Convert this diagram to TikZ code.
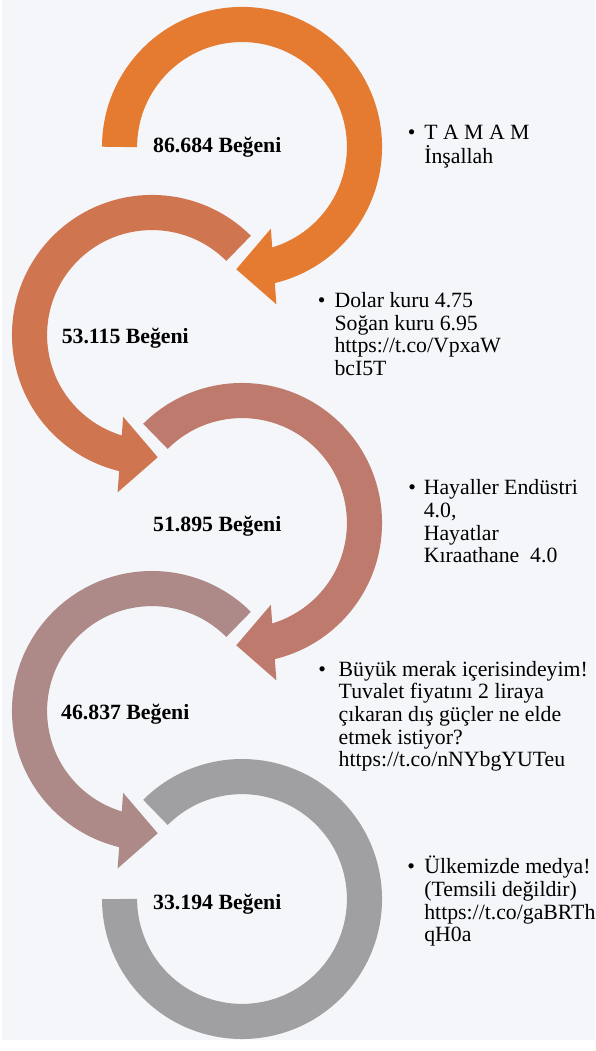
\documentclass[tikz,border=0pt]{standalone}
\usepackage{fontspec}
\setmainfont{Liberation Serif}
\usepackage{tikz}
\usetikzlibrary{calc}
\definecolor{hintergrund}{RGB}{245,246,250}
\definecolor{bogeneins}{RGB}{229,123,49}
\definecolor{bogenzwei}{RGB}{207,118,80}
\definecolor{bogendrei}{RGB}{190,123,109}
\definecolor{bogenvier}{RGB}{173,137,135}
\definecolor{bogenfuenf}{RGB}{160,160,162}
\newcommand{\zeilen}[1]{\begin{tabular}[t]{@{}l@{}}#1\end{tabular}}

\begin{document}
\begin{tikzpicture}[x=1pt, y=1pt,
				bogen/.style={line width=35.5pt},   %Ringbreite
				zahl/.style={font=\fontsize{22}{23}\selectfont\bfseries, inner sep=0pt, anchor=base},
				eintrag/.style={font=\fontsize{22}{22.9}\selectfont, inner sep=0pt, anchor=base west}]
				%Hintergrund
				\fill[hintergrund] (0,0) rectangle (599,1051);
				% Ringe zeichnen
				\foreach \i/\cx/\cy/\von/\bis/\farbe in {1/242.5/902.5/180/-79/bogeneins, 2/151.5/712.5/45/259/bogenzwei, 3/242.5/522.5/135/-79/bogendrei, 4/151.5/332.5/45/259/bogenvier, 5/242.5/142.5/135/-180/bogenfuenf}
				{
					\coordinate (b\i) at (\cx,\cy);
					\draw[bogen, color=\farbe] ($(b\i)+(\von:123.75)$) arc[start angle=\von, end angle=\bis, radius=123.75];
				}
				% Pfeilspitzen
				\foreach \i/\spitze/\mitte/\farbe in {1/-92.7/-75.2/bogeneins, 2/272.7/255.2/bogenzwei, 3/-92.7/-75.2/bogendrei, 4/272.7/255.2/bogenvier}
				{
					\coordinate (s\i) at ($(b\i)+(\spitze:123.75)$);
					\coordinate (m\i) at ($(b\i)+(\mitte:125)$);
					\fill[\farbe] (s\i) -- ($(m\i)!38.3pt!90:(s\i)$) -- ($(m\i)!38.3pt!-90:(s\i)$) -- cycle;
				}
				% Ringe beschriften
				\node[zahl] (z1) at ($(b1)+(-25,-5.5)$) {86.684 Beğeni};
				\node[zahl] (z2) at ($(b2)+(-27,-8.2)$) {53.115 Beğeni};
				\node[zahl] (z3) at ($(b3)+(-25,-8.2)$) {51.895 Beğeni};
				\node[zahl] (z4) at ($(b4)+(-27,-8.8)$) {46.837 Beğeni};
				\node[zahl] (z5) at ($(b5)+(-25,-10.5)$) {33.194 Beğeni};
				% Stichpunkte
				\node[eintrag] (p1) at (409.8,910.3) {•};
				\node[eintrag] (t1) at (426.5,910.3) {\zeilen{T A M A M\\İnşallah}};
				\node[eintrag] (p2) at (318.9,740.3) {•};
				\node[eintrag] (t2) at (335.8,740.3) {\zeilen{Dolar kuru 4.75\\Soğan kuru 6.95\\https://t.co/VpxaW\\bcI5T}};
				\node[eintrag] (p3) at (410.5,551) {•};
				\node[eintrag] (t3) at (426,551) {\zeilen{Hayaller Endüstri\\4.0,\\Hayatlar\\Kıraathane\ \ 4.0}};
				\node[eintrag] (p4) at (319.5,367.7) {•};
				\node[eintrag] (t4) at (340,367.7) {\zeilen{Büyük merak içerisindeyim!\\Tuvalet fiyatını 2 liraya\\çıkaran dış güçler ne elde\\etmek istiyor?\\https://t.co/nNYbgYUTeu}};
				\node[eintrag] (p5) at (409.5,168) {•};
				\node[eintrag] (t5) at (426.5,168) {\zeilen{Ülkemizde medya!\\(Temsili değildir)\\https://t.co/gaBRTh\\qH0a}};
			\end{tikzpicture}
\end{document}
